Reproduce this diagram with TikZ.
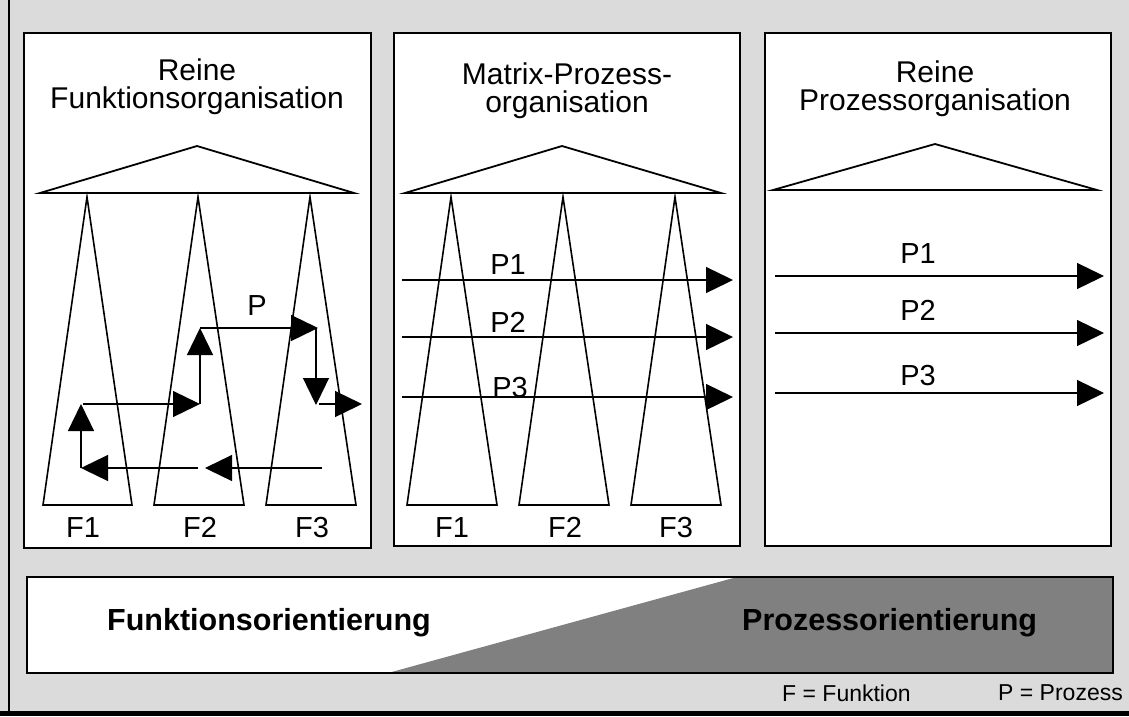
\documentclass[tikz,border=0pt]{standalone}
\usepackage{fontspec}
\setmainfont{Liberation Sans}
\usetikzlibrary{arrows.meta}

\begin{document}
\begin{tikzpicture}[x=1pt,y=-1pt,
  panel/.style={draw=black,line width=1.3pt,fill=white},
  bigtri/.style={draw=black,line width=1.8pt,line join=miter,fill=white},
  functri/.style={draw=black,line width=1.6pt,line join=miter},
  flow/.style={draw=black,line width=1.3pt,-{Triangle[length=27pt,width=26pt]}},
  title/.style={font=\fontsize{30}{28}\selectfont,inner sep=0pt,align=center,anchor=base},
  lbl/.style={font=\fontsize{29}{29}\selectfont,inner sep=0pt,anchor=base},
  orient/.style={font=\bfseries\fontsize{30.5}{31}\selectfont,inner sep=0pt,anchor=base west},
  legend/.style={font=\fontsize{23}{24}\selectfont,inner sep=0pt,anchor=base},
]
% halftone background and frame
\fill[black!14] (0,0) rectangle (1129,716);
\useasboundingbox (0,0) rectangle (1129,716);
\draw[line width=1.2pt] (9,0) -- (9,712);
\fill[black] (0,711) rectangle (1129,716);

% the three panels
\draw[panel] (24,33) rectangle (371,548);
\draw[panel] (394,33) rectangle (740,546);
\draw[panel] (765,33) rectangle (1111,546);

% titles (anchored at the baseline of their last line)
\node[title] (t1) at (197,108) {Reine\\Funktionsorganisation};
\node[title] (t2) at (567,112) {Matrix-Prozess-\\organisation};
\node[title] (t3) at (935,110) {Reine\\Prozessorganisation};

% top of each hierarchy
\draw[bigtri] (197,146) -- (354,193) -- (40,193) -- cycle;
\draw[bigtri] (562,146) -- (721,193) -- (405,193) -- cycle;
\draw[bigtri] (935,144) -- (1097,190) -- (773,190) -- cycle;

% functional pillars, panel 1
\draw[functri] (87,197) -- (132,505) -- (43,505) -- cycle;
\draw[functri] (198,197) -- (244,505) -- (154,505) -- cycle;
\draw[functri] (310,197) -- (356,505) -- (266,505) -- cycle;
% functional pillars, panel 2
\draw[functri] (451,197) -- (497,505) -- (407,505) -- cycle;
\draw[functri] (563,197) -- (609,505) -- (519,505) -- cycle;
\draw[functri] (675,197) -- (721,505) -- (631,505) -- cycle;

% function labels
\node[lbl] (f11) at (83,537) {F1};
\node[lbl] (f12) at (200,537) {F2};
\node[lbl] (f13) at (312,537) {F3};
\node[lbl] (f21) at (452,537) {F1};
\node[lbl] (f22) at (565,537) {F2};
\node[lbl] (f23) at (676,537) {F3};

% process winding through the functions
\coordinate (q0) at (322,468);
\coordinate (q1) at (205,468);
\coordinate (q2) at (198,468);
\coordinate (q3) at (81,468);
\coordinate (q4) at (81,404);
\coordinate (q4b) at (83,404);
\coordinate (q5) at (200,404);
\coordinate (q6) at (200,328);
\coordinate (q7) at (318,328);
\coordinate (q7b) at (316,328);
\coordinate (q8) at (316,405);
\coordinate (q8b) at (319,404);
\coordinate (q9) at (362,404);
\draw[flow] (q0) -- (q1);
\draw[flow] (q2) -- (q3);
\draw[flow] (q3) -- (q4);
\draw[flow] (q4b) -- (q5);
\draw[flow] (q5) -- (q6);
\draw[flow] (q6) -- (q7);
\draw[flow] (q7b) -- (q8);
\draw[flow] (q8b) -- (q9);
\node[lbl] (p0) at (257,315) {P};

% matrix processes
\coordinate (m1s) at (402,280); \coordinate (m1e) at (733,280);
\coordinate (m2s) at (402,337); \coordinate (m2e) at (733,337);
\coordinate (m3s) at (402,397); \coordinate (m3e) at (733,397);
\draw[flow] (m1s) -- (m1e);
\draw[flow] (m2s) -- (m2e);
\draw[flow] (m3s) -- (m3e);
\node[lbl] (mp1) at (508,274) {P1};
\node[lbl] (mp2) at (508,332) {P2};
\node[lbl] (mp3) at (510,397) {P3};

% pure processes
\coordinate (r1s) at (775,276); \coordinate (r1e) at (1104,276);
\coordinate (r2s) at (775,333); \coordinate (r2e) at (1104,333);
\coordinate (r3s) at (775,393); \coordinate (r3e) at (1104,393);
\draw[flow] (r1s) -- (r1e);
\draw[flow] (r2s) -- (r2e);
\draw[flow] (r3s) -- (r3e);
\node[lbl] (rp1) at (918,263) {P1};
\node[lbl] (rp2) at (918,320) {P2};
\node[lbl] (rp3) at (918,385) {P3};

% orientation bar
\fill[white] (27,577) rectangle (1113,673);
\fill[black!50] (388,673) -- (737,577) -- (1113,577) -- (1113,673) -- cycle;
\draw[line width=1.3pt] (27,577) rectangle (1113,673);
\node[orient] (fo) at (107,630) {Funktionsorientierung};
\node[orient] (po) at (742,630) {Prozessorientierung};

% legend
\node[legend,anchor=base west] (lf) at (782,701) {F = Funktion};
\node[legend,anchor=base east] (lp) at (1123,700) {P = Prozess};
\end{tikzpicture}
\end{document}
